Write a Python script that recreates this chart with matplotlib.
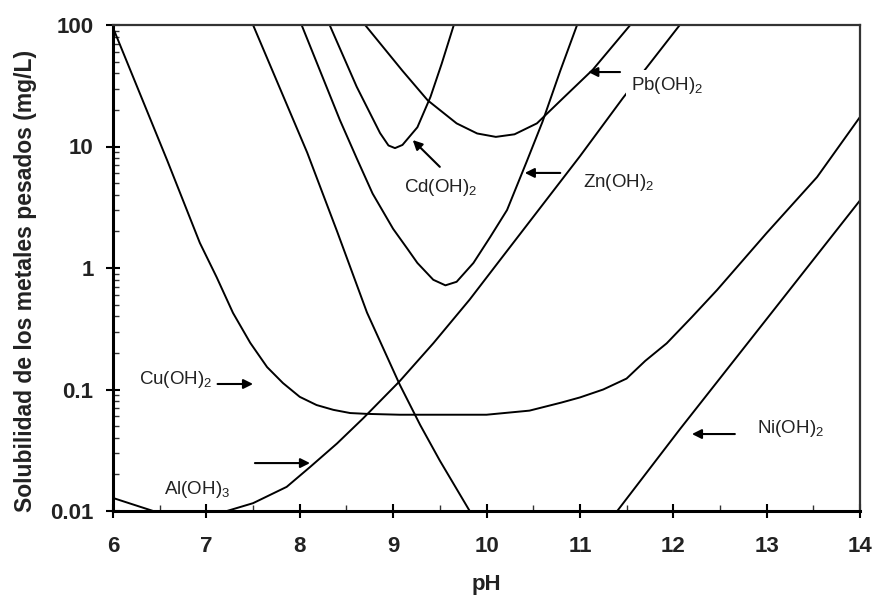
import numpy as np
import matplotlib
matplotlib.use("Agg")
import matplotlib.pyplot as plt
from matplotlib.ticker import MultipleLocator, LogLocator, NullFormatter, FixedLocator

plt.rcParams['font.family'] = ['Liberation Sans', 'DejaVu Sans']
plt.rcParams['mathtext.fontset'] = 'custom'
plt.rcParams['mathtext.rm'] = 'Liberation Sans'
plt.rcParams['mathtext.it'] = 'Liberation Sans'
plt.rcParams['mathtext.bf'] = 'Liberation Sans:bold'

# ---- data (pH, solubility mg/L) ----
ph_cu = [6.0, 6.58, 6.93, 7.11, 7.285, 7.47, 7.65, 7.82, 8.0, 8.18, 8.36, 8.54, 8.72, 9.07, 9.6, 10.0,
         10.46, 10.8, 11.0, 11.25, 11.5, 11.7, 11.93, 12.2, 12.47, 13.0, 13.54, 14.0]
sol_cu = [95, 7.7, 1.61, 0.84, 0.427, 0.242, 0.153, 0.113, 0.087, 0.0745, 0.068, 0.064, 0.063, 0.062, 0.062, 0.062,
          0.067, 0.078, 0.086, 0.10, 0.123, 0.172, 0.24, 0.395, 0.66, 1.94, 5.6, 17.5]

ph_zn = [8.02, 8.43, 8.61, 8.78, 9.0, 9.15, 9.26, 9.43, 9.56, 9.68, 9.86, 10.04, 10.22, 10.43, 10.6, 10.79, 10.97]
sol_zn = [100, 16.5, 8.0, 4.1, 2.1, 1.45, 1.1, 0.80, 0.72, 0.77, 1.1, 1.8, 3.0, 7.5, 16, 42, 100]

ph_cd = [8.32, 8.61, 8.86, 8.95, 9.02, 9.1, 9.26, 9.4, 9.52, 9.65]
sol_cd = [100, 31, 12.9, 10.2, 9.7, 10.3, 14.4, 25.6, 48, 100]

ph_pb = [8.7, 9.1, 9.37, 9.68, 9.9, 10.1, 10.3, 10.54, 10.82, 11.14, 11.54]
sol_pb = [100, 42, 24, 15.5, 12.8, 12.0, 12.6, 15.5, 25, 43, 100]

ph_al = [6.0, 6.43, 6.85, 7.22, 7.5, 7.86, 8.11, 8.4, 8.68, 9.07, 9.43, 9.82, 10.14, 11.0, 11.46, 12.07]
sol_al = [0.0128, 0.0100, 0.0088, 0.0100, 0.0116, 0.0158, 0.023, 0.036, 0.058, 0.117, 0.24, 0.55, 1.15, 8.3, 25, 100]

ph_ni = [7.5, 8.08, 8.4, 8.72, 9.07, 9.29, 9.5, 9.82, 10.3, 10.8, 11.4, 12.07, 13.0, 14.0]
sol_ni = [100, 8.9, 2.0, 0.43, 0.11, 0.051, 0.026, 0.010, 0.0055, 0.0055, 0.010, 0.047, 0.38, 3.6]

x_ticks = [6, 7, 8, 9, 10, 11, 12, 13, 14]
y_ticks = [0.01, 0.1, 1, 10, 100]
y_ticklabels = ['0.01', '0.1', '1', '10', '100']

labels = ['Pb(OH)$_2$', 'Cd(OH)$_2$', 'Zn(OH)$_2$', 'Cu(OH)$_2$', 'Al(OH)$_3$', 'Ni(OH)$_2$']
label_pos = [(11.93, 32), (9.51, 4.6), (11.42, 5.1), (6.67, 0.12), (6.9, 0.0149), (13.26, 0.048)]
arrow_tail = [(11.43, 41), (9.50, 6.8), (10.79, 6.06), (7.12, 0.111), (7.52, 0.0248), (12.66, 0.043)]
arrow_head = [(11.09, 41), (9.21, 11.3), (10.41, 6.06), (7.50, 0.111), (8.11, 0.0248), (12.20, 0.043)]

fig = plt.figure(figsize=(8.77, 6.02), dpi=100)
ax = fig.add_axes([113/877, 1-511/602, (860-113)/877, (511-25)/602])

lw = 1.4
for xs, ys in [(ph_cu, sol_cu), (ph_zn, sol_zn), (ph_cd, sol_cd), (ph_pb, sol_pb), (ph_al, sol_al), (ph_ni, sol_ni)]:
    ax.plot(xs, ys, color='black', lw=lw, solid_joinstyle='round')

ax.set_yscale('log')
ax.set_xlim(6, 14)
ax.set_ylim(0.01, 100)

ax.xaxis.set_major_locator(FixedLocator(x_ticks))
ax.xaxis.set_minor_locator(MultipleLocator(0.5))
ax.set_yticks(y_ticks)
ax.set_yticklabels(y_ticklabels)
ax.yaxis.set_minor_locator(LogLocator(base=10, subs=np.arange(2, 10)))
ax.yaxis.set_minor_formatter(NullFormatter())

ax.tick_params(which='major', direction='inout', length=10, width=1.5, color='black')
ax.tick_params(which='minor', direction='in', length=4.5, width=1.0, color='#333333')
ax.tick_params(axis='x', which='major', pad=13)
ax.tick_params(axis='y', which='major', pad=9)
for lab in ax.get_xticklabels() + ax.get_yticklabels():
    lab.set_fontsize(16)
    lab.set_fontweight('bold')
    lab.set_color('#222222')

for s in ['left', 'bottom']:
    ax.spines[s].set_linewidth(2.2)
for s in ['top', 'right']:
    ax.spines[s].set_linewidth(1.6)
    ax.spines[s].set_color('#333333')

ax.set_xlabel('pH', fontsize=16, fontweight='bold', labelpad=12.5, color='#222222')
ax.set_ylabel('Solubilidad de los metales pesados (mg/L)', fontsize=16.5, fontweight='bold', color='#222222')
ax.yaxis.set_label_coords(-0.102, 0.473)

for i, (t, p) in enumerate(zip(labels, label_pos)):
    kw = {}
    if i == 0:
        kw['bbox'] = dict(facecolor='white', edgecolor='none', pad=3)
    ax.text(p[0], p[1], t, fontsize=13.5, ha='center', va='center', color='#222222', **kw)

for tl, hd in zip(arrow_tail, arrow_head):
    ax.annotate('', xy=hd, xytext=tl,
                arrowprops=dict(arrowstyle='-|>', color='black', lw=1.5, mutation_scale=14, shrinkA=0, shrinkB=0))

fig.savefig('out.png', dpi=100)
